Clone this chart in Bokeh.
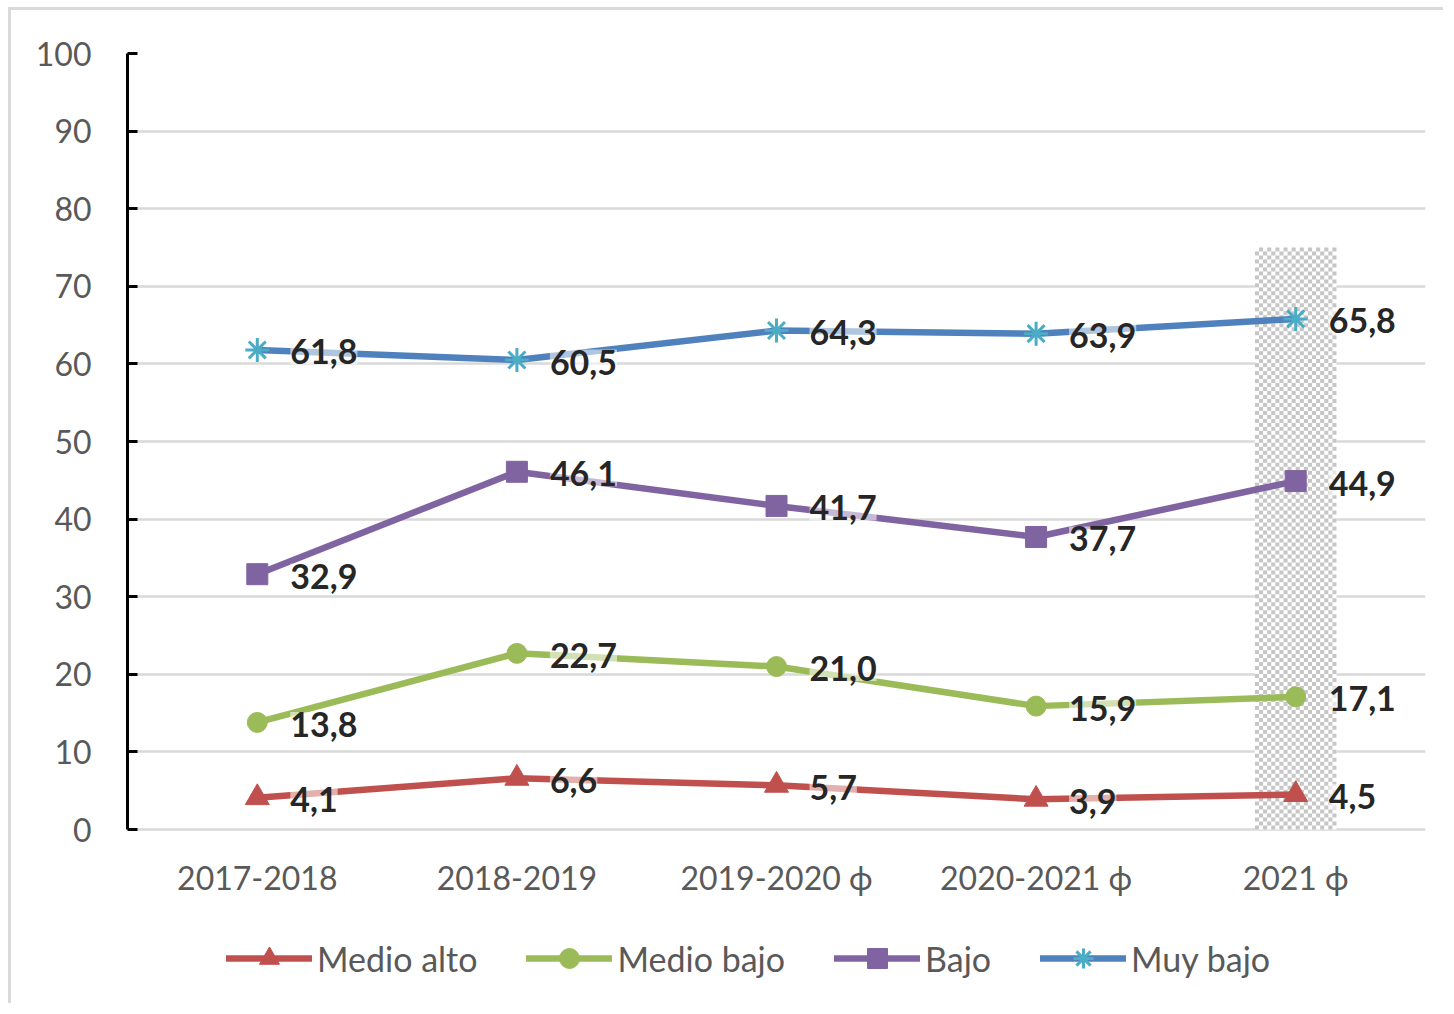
import numpy as np
from bokeh.plotting import figure
from bokeh.models import FixedTicker, Legend, LegendItem
from bokeh.embed import file_html
from bokeh.resources import INLINE
from bokeh.core.properties import value

# ---- data ----
periods = ["2017-2018", "2018-2019", "2019-2020 ϕ", "2020-2021 ϕ", "2021 ϕ"]
medio_alto = [4.1, 6.6, 5.7, 3.9, 4.5]
medio_bajo = [13.8, 22.7, 21.0, 15.9, 17.1]
bajo = [32.9, 46.1, 41.7, 37.7, 44.9]
muy_bajo = [61.8, 60.5, 64.3, 63.9, 65.8]
series_names = ["Medio alto", "Medio bajo", "Bajo", "Muy bajo"]
y_ticks = list(range(0, 101, 10))
highlight_period = "2021 ϕ"
highlight_top = 75

# ---- styles ----
FONT = "Lato"
colors = ["#C0504D", "#9BBB59", "#8064A2", "#4F81BD"]
marker_colors = ["#C0504D", "#9BBB59", "#8064A2", "#4BACC6"]
markers = ["triangle", "circle", "square", "asterisk"]
marker_sizes = [24, 20, 21, 24]

x_idx = list(range(len(periods)))

# frame extends below the value axis so that the category labels and the legend live inside it
Y_BOTTOM = -22.55

p = figure(width=1435, height=996, x_range=(-0.5, len(periods) - 0.5), y_range=(Y_BOTTOM, 100),
           output_backend="svg", toolbar_location=None,
           min_border_left=116, min_border_right=21, min_border_top=43, min_border_bottom=2)
p.styles = {"position": "relative", "left": "11px", "top": "10px",
            "box-shadow": "-3px -3px 0 0 #dadada"}
p.outline_line_color = None
p.background_fill_color = "white"
p.border_fill_color = "white"

p.xgrid.visible = False
p.ygrid.ticker = FixedTicker(ticks=y_ticks)
p.ygrid.grid_line_color = "#d9d9d9"
p.ygrid.grid_line_width = 2.5

ya = p.yaxis[0]
ya.ticker = FixedTicker(ticks=y_ticks)
ya.bounds = (0, 100)
ya.axis_line_color = "black"
ya.axis_line_width = 3
ya.major_tick_in = 10
ya.major_tick_out = 0
ya.major_tick_line_width = 3
ya.major_tick_line_color = "black"
ya.minor_tick_line_color = None
ya.major_label_text_font = FONT
ya.major_label_text_font_size = "32px"
ya.major_label_text_color = "#595959"
ya.major_label_standoff = 36

xa = p.xaxis[0]
xa.fixed_location = 0
xa.ticker = FixedTicker(ticks=x_idx)
xa.major_label_overrides = {i: lab for i, lab in enumerate(periods)}
xa.axis_line_color = None
xa.major_tick_line_color = None
xa.minor_tick_line_color = None
xa.major_label_text_font = FONT
xa.major_label_text_font_size = "32px"
xa.major_label_text_color = "#595959"
xa.major_label_standoff = 22

# ---- highlighted (checkered) band ----
hx = periods.index(highlight_period)
hw = 0.157
p.quad(left=[hx - hw], right=[hx + hw], bottom=[0], top=[highlight_top],
       fill_color="white", line_color=None)
ncols, nrows = 20, 146
xs = np.linspace(hx - hw, hx + hw, ncols + 1)
ys = np.linspace(0, highlight_top, nrows + 1)
I, J = np.meshgrid(np.arange(ncols), np.arange(nrows))
mask = (I + J) % 2 == 0
p.quad(left=xs[I[mask]], right=xs[I[mask] + 1], bottom=ys[J[mask]], top=ys[J[mask] + 1],
       fill_color="#c6c6c6", line_color=None)

# ---- series ----
all_series = [medio_alto, medio_bajo, bajo, muy_bajo]
items = []
for name, vals, c, mc, mk, ms in zip(series_names, all_series, colors, marker_colors, markers, marker_sizes):
    lr = p.line(x_idx, vals, line_color=c, line_width=6.5, line_cap="round", line_join="round")
    sr = p.scatter(x_idx, vals, marker=mk, size=ms, fill_color=mc, line_color=mc,
                   line_width=3 if mk == "asterisk" else 1)
    items.append(LegendItem(label=name, renderers=[lr, sr]))

for vals in all_series:
    labels = [f"{v:.1f}".replace(".", ",") for v in vals]
    p.text(x=x_idx, y=vals, text=labels, x_offset=33, y_offset=2,
           text_baseline="middle", text_align="left",
           text_font=value(FONT), text_font_style="bold", text_font_size="34px",
           text_color="#262626", background_fill_color="white", background_fill_alpha=0.55)

legend = Legend(items=items, orientation="horizontal", location=(99, 21),
                glyph_width=86, glyph_height=50, label_standoff=5, spacing=49,
                label_text_font=FONT, label_text_font_size="34px", label_text_color="#595959",
                border_line_color=None, background_fill_alpha=0, margin=0, padding=0)
p.add_layout(legend, "center")

open("out.html", "w").write(file_html(p, INLINE))
